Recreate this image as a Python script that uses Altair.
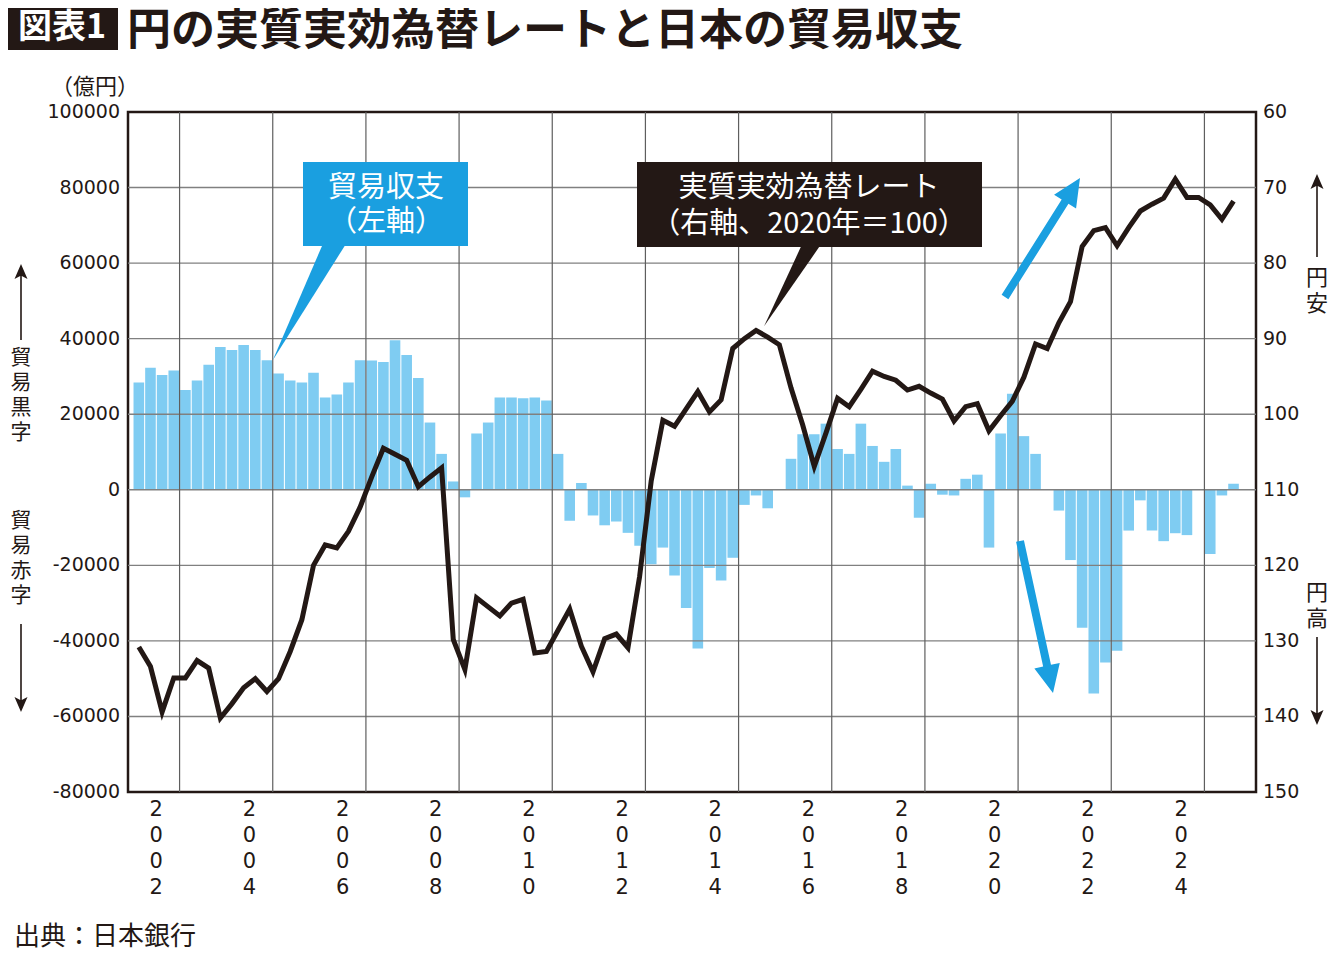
import math
import altair as alt
import pandas as pd

# ---------------- data ----------------
quarters = [f"{y}Q{q}" for y in range(2002, 2026) for q in range(1, 5)][:95]

# 貿易収支（億円, quarterly）
trade_balance = [
    28400, 32300, 30400, 31600, 26400, 28900, 33100, 37800,
    37000, 38300, 37000, 34300, 30800, 28900, 28400, 31000,
    24400, 25200, 28400, 34300, 34200, 33800, 39600, 35700,
    29600, 17800, 9500, 2200, -2000, 14900, 17800, 24400,
    24400, 24200, 24400, 23600, 9500, -8200, 1800, -6800,
    -9400, -8400, -11400, -14800, -19700, -15300, -22700, -31300,
    -42000, -20700, -24000, -18000, -4000, -1500, -4900, 0,
    8200, 14700, 14700, 17500, 10800, 9500, 17500, 11600,
    7400, 10800, 1100, -7400, 1600, -1300, -1500, 2900,
    4000, -15300, 14900, 25400, 14200, 9500, 0, -5500,
    -18600, -36500, -53900, -45700, -42600, -10800, -2800, -10800,
    -13600, -11500, -12000, 0, -17000, -1500, 1600,
]

# 実質実効為替レート（2020年=100, quarterly）
reer_index = [
    130.8, 133.4, 139.4, 134.9, 134.9, 132.6, 133.6, 140.2,
    138.3, 136.2, 135.0, 136.7, 135.0, 131.4, 127.2, 120.0,
    117.3, 117.7, 115.5, 112.3, 108.3, 104.5, 105.3, 106.1,
    109.6, 108.3, 107.1, 129.8, 133.8, 124.3, 125.5, 126.7,
    125.0, 124.5, 131.6, 131.4, 128.6, 125.8, 130.7, 134.1,
    129.7, 129.1, 130.9, 121.5, 108.8, 100.8, 101.6, 99.3,
    97.0, 99.7, 98.1, 91.3, 90.0, 88.9, 89.8, 90.8,
    96.5, 101.4, 106.9, 102.5, 97.9, 99.0, 96.7, 94.3,
    95.0, 95.5, 96.8, 96.3, 97.2, 98.0, 100.9, 99.0,
    98.6, 102.2, 100.2, 98.3, 95.1, 90.7, 91.3, 87.9,
    85.1, 77.8, 75.7, 75.3, 77.7, 75.3, 73.1, 72.2,
    71.4, 68.9, 71.3, 71.3, 72.3, 74.2, 71.8,
]

label_years = list(range(2002, 2025, 2))
grid_years = list(range(2003, 2026, 2))
left_ticks = list(range(-80000, 100001, 20000))
right_ticks = list(range(60, 151, 10))

# ---------------- styles ----------------
INK = "#231815"
BAR = "#7fccf2"
CYAN = "#1a9fe0"
GRID = "#808080"
JP = "Noto Sans CJK JP"
NUM = "DejaVu Sans"

OX, OY = 128, 112          # page position of the plot origin
W, H = 1128, 680

t_mid = [int(q[:4]) + (int(q[-1]) - 1) / 4 + 0.125 for q in quarters]
df = pd.DataFrame({"quarter": quarters, "t": t_mid,
                   "balance": trade_balance, "reer": reer_index})

x_scale = alt.Scale(domain=[2002, 2026], nice=False, zero=False)
yl_scale = alt.Scale(domain=[-80000, 100000], nice=False, zero=False)
yr_scale = alt.Scale(domain=[60, 150], nice=False, zero=False, reverse=True)

X = lambda f: alt.X(f"{f}:Q", scale=x_scale, axis=None)
YL = lambda f: alt.Y(f"{f}:Q", scale=yl_scale, axis=None)
YR = lambda f: alt.Y(f"{f}:Q", scale=yr_scale, axis=None)

# ---------------- data layers ----------------
bars = alt.Chart(df).mark_bar(color=BAR, size=10.6).encode(
    x=X("t"), y=YL("balance"), y2=alt.datum(0),
)
hgrid = alt.Chart(pd.DataFrame({"balance": left_ticks[1:-1]})).mark_rule(
    color=GRID, strokeWidth=1.4
).encode(y=YL("balance"))
vgrid = alt.Chart(pd.DataFrame({"t": grid_years})).mark_rule(
    color="#5e5e5e", strokeWidth=1.2
).encode(x=X("t"))

# tick labels placed through the scales
left_lab = alt.Chart(pd.DataFrame({
    "balance": left_ticks, "label": [str(v) for v in left_ticks]
})).mark_text(align="right", baseline="middle", font=NUM, fontSize=19, color=INK).encode(
    x=alt.value(-8), y=YL("balance"), text="label:N")

x_lab = alt.Chart(pd.DataFrame({
    "t": [y + 0.5 for y in label_years],
    "label": ["\n".join(str(y)) for y in label_years],
})).mark_text(align="center", baseline="top", font=NUM, fontSize=21, color=INK,
              lineBreak="\n", lineHeight=26).encode(
    x=X("t"), y=alt.value(H + 7), text="label:N")

# callout pointer for 貿易収支 (tip anchored at the 2004Q4 bar)
blue_tip = pd.DataFrame({"t": [2005.0], "balance": [trade_balance[11]]})
blue_pointer = alt.Chart(blue_tip).mark_point(
    shape="M0,0 L50,-116 L73,-116 Z", size=4, filled=True,
    color=CYAN, opacity=1, strokeWidth=0,
).encode(x=X("t"), y=YL("balance"))

line = alt.Chart(df).mark_line(color=INK, strokeWidth=5, strokeJoin="miter").encode(
    x=X("t"), y=YR("reer"),
)
right_lab = alt.Chart(pd.DataFrame({
    "reer": right_ticks, "label": [str(v) for v in right_ticks]
})).mark_text(align="left", baseline="middle", font=NUM, fontSize=19, color=INK).encode(
    x=alt.value(W + 7), y=YR("reer"), text="label:N")

peak = 53
black_tip = pd.DataFrame({"t": [t_mid[peak]], "reer": [reer_index[peak]]})
black_pointer = alt.Chart(black_tip).mark_point(
    shape="M8,-4 L46,-86 L65,-86 Z", size=4, filled=True,
    color=INK, opacity=1, strokeWidth=0,
).encode(x=X("t"), y=YR("reer"))

# ---------------- annotation helpers ----------------
one = pd.DataFrame({"k": [0]})


def rect(x0, y0, x1, y1, color):
    return alt.Chart(one).mark_rect(color=color).encode(
        x=alt.value(x0 - OX), x2=alt.value(x1 - OX),
        y=alt.value(y0 - OY), y2=alt.value(y1 - OY))


def text(s, x, y, size, color=INK, align="center", weight="normal", lh=None, font=JP):
    kw = dict(align=align, baseline="middle", font=font, fontSize=size,
              color=color, fontWeight=weight, lineBreak="\n")
    n = s.count("\n")
    if lh is not None:
        kw["lineHeight"] = lh
        y = y - n * lh / 2          # y is the centre of the whole block
    return alt.Chart(one).mark_text(**kw).encode(
        x=alt.value(x - OX), y=alt.value(y - OY), text=alt.value(s))


def arrow_path(dx, dy, sw, hw, hl, notch=0.0):
    L = math.hypot(dx, dy)
    ux, uy = dx / L, dy / L
    nx, ny = -uy, ux
    neck = L - hl

    def p(a, b):
        return (a * ux + b * nx, a * uy + b * ny)

    pts = [p(0, sw), p(neck + notch, sw), p(neck, hw), p(L, 0),
           p(neck, -hw), p(neck + notch, -sw), p(0, -sw)]
    return "M" + " L".join(f"{a:.2f},{b:.2f}" for a, b in pts) + " Z"


def arrow(x0, y0, x1, y1, color, sw, hw, hl, notch=0.0):
    return alt.Chart(one).mark_point(
        shape=arrow_path(x1 - x0, y1 - y0, sw, hw, hl, notch), size=4,
        filled=True, color=color, opacity=1, strokeWidth=0,
    ).encode(x=alt.value(x0 - OX), y=alt.value(y0 - OY))


annotations = [
    # title
    rect(6, 5, 118, 50, INK),
    text("図表1", 62, 28, 34, color="white", weight="bold"),
    text("円の実質実効為替レートと日本の貿易収支", 127, 32, 44, align="left", weight="bold"),
    # unit
    text("（億円）", 95, 87, 22),
    # callout boxes
    rect(303, 162, 468, 246, CYAN),
    text("貿易収支\n（左軸）", 386, 205, 29, color="white", lh=34),
    rect(637, 162, 982, 247, INK),
    text("実質実効為替レート\n（右軸、2020年＝100）", 809, 206, 29, color="white", lh=36),
    # blue trend arrows
    arrow(1005, 297, 1080, 178, CYAN, 4, 13, 28),
    arrow(1020, 541, 1053, 693, CYAN, 4, 13, 28),
    # left side labels
    text("貿\n易\n黒\n字", 21, 395, 21, lh=25),
    arrow(21, 340, 21, 264, INK, 0.8, 6.5, 15, 3),
    text("貿\n易\n赤\n字", 21, 558, 21, lh=25),
    arrow(21, 624, 21, 712, INK, 0.8, 6.5, 15, 3),
    # right side labels
    text("円\n安", 1317, 291, 22, lh=26),
    arrow(1317, 257, 1317, 174, INK, 0.8, 6.5, 15, 3),
    text("円\n高", 1317, 606, 22, lh=26),
    arrow(1317, 637, 1317, 725, INK, 0.8, 6.5, 15, 3),
    # source
    text("出典：日本銀行", 14, 937, 26, align="left"),
]

left = alt.layer(bars, hgrid, vgrid, left_lab, x_lab, blue_pointer)
right = alt.layer(line, right_lab, black_pointer)

chart = alt.layer(left, right, *annotations).resolve_scale(
    y="independent"
).properties(
    width=W, height=H, background="white",
    padding={"left": 120, "top": 104, "right": 74, "bottom": 160},
    autosize=alt.AutoSizeParams(type="none"),
).configure_view(
    stroke=INK, strokeWidth=2.5
)

chart.save("out.html", embed_options={"renderer": "svg", "actions": False})
